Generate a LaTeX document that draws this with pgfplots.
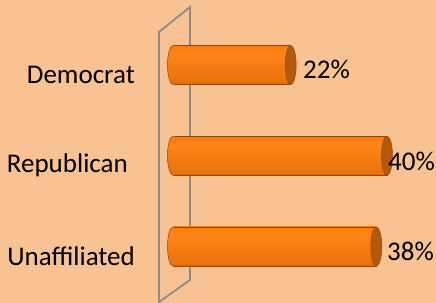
\documentclass[border=0pt]{standalone}
\usepackage{pgfplots}
\pgfplotsset{compat=1.18}
\usepackage{fontspec}
\setmainfont{Carlito}
\definecolor{bgpeach}{HTML}{F8C293}
\definecolor{wallgray}{HTML}{8C8C8C}
\definecolor{baredge}{HTML}{8A4510}
\definecolor{capface}{HTML}{B45A0C}
\definecolor{cylA}{HTML}{803D05}
\definecolor{cylB}{HTML}{B35708}
\definecolor{cylC}{HTML}{EB730D}
\definecolor{cylD}{HTML}{FF8517}
\definecolor{cylE}{HTML}{EA700C}
\definecolor{cylF}{HTML}{A04C07}
\pgfdeclareverticalshading{cylshade}{100bp}{%
  color(0bp)=(cylA);
  color(12bp)=(cylB);
  color(30bp)=(cylC);
  color(65bp)=(cylD);
  color(88bp)=(cylE);
  color(100bp)=(cylF)}
\pgfdeclareplotmark{capleft}{%
  \pgfpathmoveto{\pgfqpoint{1.2bp}{19.5bp}}%
  \pgfpathlineto{\pgfqpoint{0bp}{19.5bp}}%
  \pgfpatharc{90}{270}{5.5bp and 19.5bp}%
  \pgfpathlineto{\pgfqpoint{1.2bp}{-19.5bp}}%
  \pgfpathclose
  \pgfshadepath{cylshade}{0}%
  \pgfusepath{discard}%
  \pgfpathmoveto{\pgfqpoint{0bp}{19.5bp}}%
  \pgfpatharc{90}{270}{5.5bp and 19.5bp}%
  \pgfusepathqstroke}
\pgfdeclareplotmark{capright}{%
  \pgfpathellipse{\pgfpointorigin}{\pgfqpoint{5.5bp}{0pt}}{\pgfqpoint{0pt}{19.5bp}}%
  \pgfusepathqfillstroke}
\begin{document}
\begin{tikzpicture}
\fill[bgpeach] (0,0) rectangle (436bp,303bp);
\draw[wallgray, line width=1.8bp, line join=miter] (159bp,1bp) -- (159bp,271bp) -- (190bp,296bp) -- (190bp,23bp) -- cycle;
\begin{axis}[
  at={(173bp,0bp)}, anchor=south west,
  scale only axis, width=263bp, height=303bp,
  xmin=0, xmax=49.16, ymin=-0.6226, ymax=2.7163,
  axis line style={draw=none},
  major tick length=0pt,
  xtick=\empty,
  ytick={0,1,2},
  yticklabels={Unaffiliated, Republican\kern7bp, Democrat},
  yticklabel style={font=\fontsize{27bp}{31bp}\selectfont, anchor=east, inner sep=0pt, xshift=-38bp, yshift=-10bp},
  clip=false,
  every axis plot/.append style={bar shift=0pt},
]
% bars, one plot each so each gets its own cylinder shading
\addplot[xbar, bar width=39bp, draw=baredge, line width=0.5bp, shade, shading=cylshade] coordinates {(22,2)};
\addplot[xbar, bar width=39bp, draw=baredge, line width=0.5bp, shade, shading=cylshade] coordinates {(40,1)};
\addplot[xbar, bar width=39bp, draw=baredge, line width=0.5bp, shade, shading=cylshade] coordinates {(38,0)};
% left end caps
\addplot[only marks, mark=capleft, mark options={draw=baredge, line width=0.5bp}] coordinates {(0,2) (0,1) (0,0)};
% right end caps
\addplot[only marks, mark=capright, mark options={fill=capface, draw=baredge, line width=0.5bp}]
  coordinates {(22,2) (40,1) (38,0)};
% value labels
\addplot[draw=none, mark=none, nodes near coords, point meta=explicit symbolic,
  nodes near coords style={anchor=west, inner sep=0pt, font=\fontsize{27bp}{31bp}\selectfont, text=black}]
  coordinates {(24.30,1.956)[22\%] (40.19,0.942)[40\%] (40.0,-0.05)[38\%]};
\end{axis}
\pgfresetboundingbox
\useasboundingbox (0,0) rectangle (436bp,303bp);
\end{tikzpicture}
\end{document}
